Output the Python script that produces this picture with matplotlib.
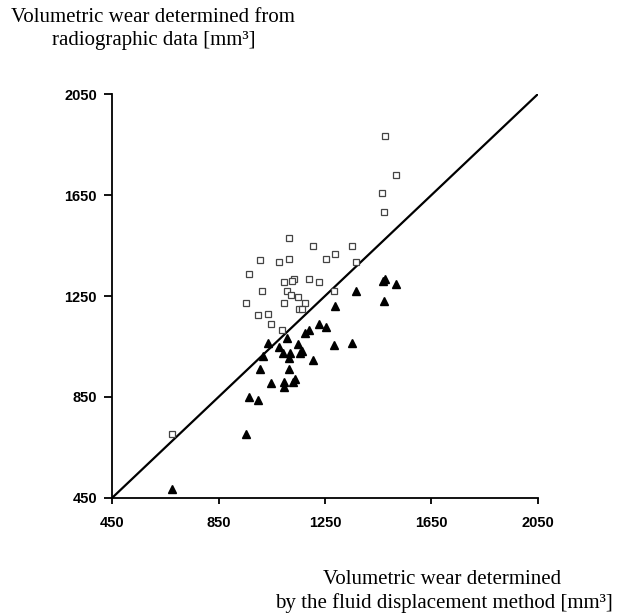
import matplotlib
matplotlib.use("Agg")
import matplotlib.pyplot as plt
import numpy as np

# radiographic (open squares)
sq_x = [1476, 1516, 1464, 1472, 1113, 1205, 1350, 1286, 1252, 1116, 1007, 1076,
        1367, 964, 1135, 1125, 1191, 1095, 1227, 1014, 1107, 1284, 1121, 1147,
        953, 1096, 1175, 1152, 1162, 1034, 998, 1046, 1090, 676]
sq_y = [1885, 1731, 1657, 1583, 1480, 1450, 1450, 1417, 1398, 1398, 1392, 1384,
        1384, 1337, 1319, 1311, 1319, 1304, 1304, 1271, 1271, 1271, 1254, 1245,
        1222, 1222, 1222, 1198, 1198, 1180, 1175, 1140, 1116, 704]

# second series (filled triangles)
tri_x = [1474, 1468, 1516, 1367, 1473, 1288, 1226, 1252, 1191, 1175, 1107, 1034,
         1285, 1350, 1147, 1076, 1091, 1120, 1162, 1156, 1017, 1116, 1206, 1007,
         1113, 1046, 1095, 1095, 1128, 1138, 964, 998, 953, 676]
tri_y = [1316, 1308, 1299, 1268, 1230, 1210, 1139, 1126, 1115, 1102, 1085, 1065,
         1054, 1065, 1058, 1049, 1025, 1025, 1033, 1023, 1012, 1004, 995, 959,
         962, 903, 910, 890, 910, 919, 851, 836, 704, 486]

ticks = [450, 850, 1250, 1650, 2050]

fig = plt.figure(figsize=(6.18, 6.14), dpi=100)
ax = fig.add_axes([0.1817, 0.1894, 0.6883, 0.657])

ax.plot([450, 2050], [450, 2050], color="black", lw=1.6, zorder=1)
ax.plot(sq_x, sq_y, linestyle="none", marker="s", ms=4.5, mfc="white",
        mec="#444444", mew=0.9, zorder=2)
ax.plot(tri_x, tri_y, linestyle="none", marker="^", ms=6.4, color="black", zorder=3)

ax.set_xlim(450, 2050)
ax.set_ylim(450, 2050)
ax.set_xticks(ticks)
ax.set_yticks(ticks)
for s in ["top", "right"]:
    ax.spines[s].set_visible(False)
for s in ["left", "bottom"]:
    ax.spines[s].set_linewidth(1.3)
ax.tick_params(direction="out", width=1.3, labelsize=10.5)
ax.tick_params(axis="x", length=4.5, pad=9)
ax.tick_params(axis="y", length=6, pad=5)
for lab in ax.get_xticklabels() + ax.get_yticklabels():
    lab.set_fontweight("bold")
    lab.set_family("Liberation Sans")

serif = "Liberation Serif"
fs = 15
fig.text(153 / 618, 1 - 18 / 614, "Volumetric wear determined from",
         ha="center", va="center", family=serif, fontsize=fs)
fig.text(154 / 618, 1 - 40 / 614, "radiographic data [mm³]",
         ha="center", va="center", family=serif, fontsize=fs)
fig.text(442 / 618, 1 - 580 / 614, "Volumetric wear determined",
         ha="center", va="center", family=serif, fontsize=fs)
fig.text(444 / 618, 1 - 603 / 614, "by the fluid displacement method [mm³]",
         ha="center", va="center", family=serif, fontsize=fs)

plt.savefig("out.png", dpi=100)
